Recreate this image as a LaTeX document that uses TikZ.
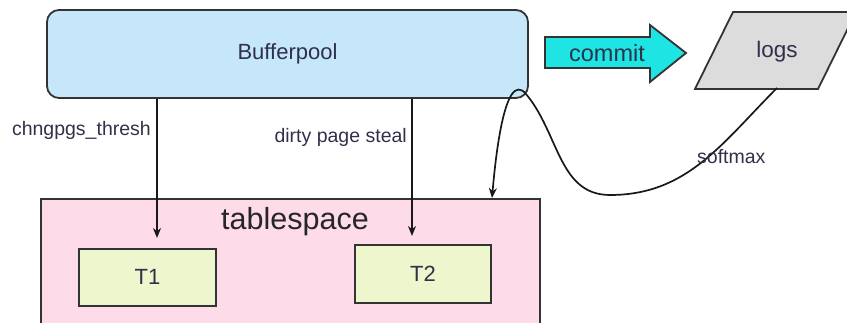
\documentclass[tikz,border=0pt]{standalone}
\usepackage{fontspec}
\setmainfont{Liberation Sans}
\usetikzlibrary{arrows.meta}
\definecolor{bpfill}{HTML}{C6E6FA}
\definecolor{tsfill}{HTML}{FDDBE9}
\definecolor{tfill}{HTML}{EEF6CE}
\definecolor{logfill}{HTML}{DCDCDC}
\definecolor{cmfill}{HTML}{1EE4E4}
\definecolor{edge}{HTML}{333333}
\definecolor{txt}{HTML}{30304A}
\begin{document}
\begin{tikzpicture}[x=1pt,y=1pt,
  box/.style={draw=edge, line width=1.8pt, inner sep=0pt},
  big/.style={text=txt, font=\fontsize{22}{24}\selectfont},
  lbl/.style={text=txt, font=\fontsize{19.5}{22}\selectfont, inner sep=0pt},
  arr/.style={draw=black!90, line width=1.7pt, -{Stealth[length=10pt,width=8pt]}}]
\useasboundingbox (0,0) rectangle (847,-323);
% tablespace
\node[box, fill=tsfill, minimum width=499pt, minimum height=140pt, anchor=north west] (tsp) at (40,-198) {};
\node[text=black!85, font=\fontsize{30.5}{34}\selectfont] (tslbl) at (295,-222) {tablespace};
\node[box, big, fill=tfill, minimum width=137pt, minimum height=57pt, anchor=north west] (t1) at (78,-248) {T1};
\node[box, big, fill=tfill, minimum width=136pt, minimum height=58pt, anchor=north west] (t2) at (354,-244) {T2};
% bufferpool
\node[box, big, fill=bpfill, rounded corners=12pt, minimum width=481pt, minimum height=88pt] (buf) at (287.5,-54) {Bufferpool};
% commit arrow
\draw[box, fill=cmfill] (545,-37) -- (650,-37) -- (650,-25) -- (686,-53) -- (650,-82) -- (650,-68) -- (545,-68) -- cycle;
\node[big, font=\fontsize{23.5}{26}\selectfont] (commit) at (607,-53) {commit};
% logs
\draw[box, fill=logfill] (695,-89) -- (733,-12) -- (856,-12) -- (818,-89) -- cycle;
\node[big, font=\fontsize{22.5}{25}\selectfont] (logs) at (777,-52) {logs};
% connectors
\coordinate (e1) at (157,-238);
\coordinate (e2) at (412,-236);
\draw[arr] (buf.south -| e1) -- (e1);
\draw[arr] (buf.south -| e2) -- (e2);
\node[lbl, anchor=east] (l1) at (151,-130) {chngpgs\_thresh};
\node[lbl, anchor=east] (l2) at (407,-137) {dirty page steal};
\coordinate (lb) at (777,-88);
\coordinate (te) at (492,-198);
\coordinate (tr) at (610,-195);
\coordinate (pk) at (526,-94);
\draw[arr] (lb) to[out=225,in=0] (tr) to[out=180,in=-50] (pk) to[out=130,in=85,looseness=0.8] (te);
\node[lbl, anchor=west] (soft) at (697,-157) {softmax};
\end{tikzpicture}
\end{document}
